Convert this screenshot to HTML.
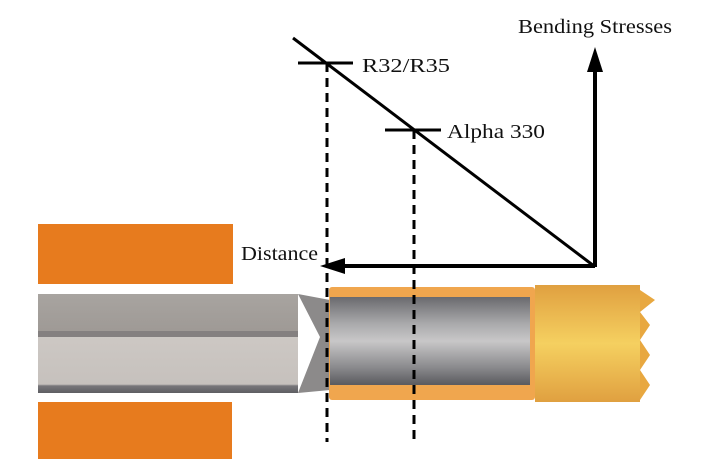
<!DOCTYPE html>
<html><head><style>html,body{margin:0;padding:0;background:#fff;}svg{display:block}</style></head>
<body>
<svg width="720" height="475" viewBox="0 0 720 475" xmlns="http://www.w3.org/2000/svg">
<defs>
<linearGradient id="rodTop" x1="0" y1="0" x2="0" y2="1"><stop offset="0" stop-color="#a8a4a0"/><stop offset="1" stop-color="#9e9995"/></linearGradient>
<linearGradient id="rodBot" x1="0" y1="0" x2="0" y2="1"><stop offset="0" stop-color="#cdc8c4"/><stop offset="0.85" stop-color="#c6c1bd"/><stop offset="0.88" stop-color="#77767a"/><stop offset="1" stop-color="#5e5e62"/></linearGradient>
<linearGradient id="steel" x1="0" y1="0" x2="0" y2="1"><stop offset="0" stop-color="#6a6a6e"/><stop offset="0.3" stop-color="#a9a9ab"/><stop offset="0.5" stop-color="#c8c7c8"/><stop offset="0.8" stop-color="#8a8a8d"/><stop offset="1" stop-color="#5a5a5e"/></linearGradient>
<linearGradient id="bit" x1="0" y1="0" x2="0" y2="1"><stop offset="0" stop-color="#e0a040"/><stop offset="0.5" stop-color="#f5d060"/><stop offset="1" stop-color="#e0a040"/></linearGradient>
</defs>
<rect x="38" y="224" width="195" height="60" fill="#e77b1e"/>
<rect x="38" y="402" width="194" height="57" fill="#e77b1e"/>
<rect x="38" y="294" width="260" height="40" fill="url(#rodTop)"/>
<rect x="38" y="334" width="260" height="59" fill="url(#rodBot)"/>
<rect x="38" y="331" width="260" height="6" fill="#848080"/>
<polygon points="298,294 330,300 330,390 298,393 320,337" fill="#8c8a8a"/>
<rect x="329" y="287" width="206" height="113" rx="3" fill="#f0a64e"/>
<rect x="330" y="297" width="200" height="88" fill="url(#steel)"/>
<rect x="535" y="285" width="105" height="117" fill="url(#bit)"/>
<polygon points="640,290 655,300 640,312 650,325 640,340 650,355 640,370 650,385 640,400" fill="#e8a840"/>
<g stroke="#000" fill="none">
<line x1="293" y1="38" x2="594" y2="266" stroke-width="3"/>
<line x1="298" y1="63" x2="353" y2="63" stroke-width="3"/>
<line x1="385" y1="130" x2="441" y2="130" stroke-width="3"/>
<line x1="327" y1="63" x2="327" y2="442" stroke-width="3" stroke-dasharray="9,6"/>
<line x1="414" y1="130" x2="414" y2="442" stroke-width="3" stroke-dasharray="9,6"/>
<line x1="595" y1="267" x2="595" y2="62" stroke-width="4"/>
<line x1="595" y1="266" x2="335" y2="266" stroke-width="4"/>
</g>
<polygon points="595,47 587,72 603,72" fill="#000"/>
<polygon points="320,266 345,258 345,274" fill="#000"/>
<g font-family="'Liberation Serif',serif" font-size="20" fill="#111">
<text x="518" y="33" textLength="154" lengthAdjust="spacingAndGlyphs">Bending Stresses</text>
<text x="362" y="72" textLength="88" lengthAdjust="spacingAndGlyphs">R32/R35</text>
<text x="447" y="138" textLength="98" lengthAdjust="spacingAndGlyphs">Alpha 330</text>
<text x="241" y="260" textLength="77" lengthAdjust="spacingAndGlyphs">Distance</text>
</g>
</svg>
</body></html>
